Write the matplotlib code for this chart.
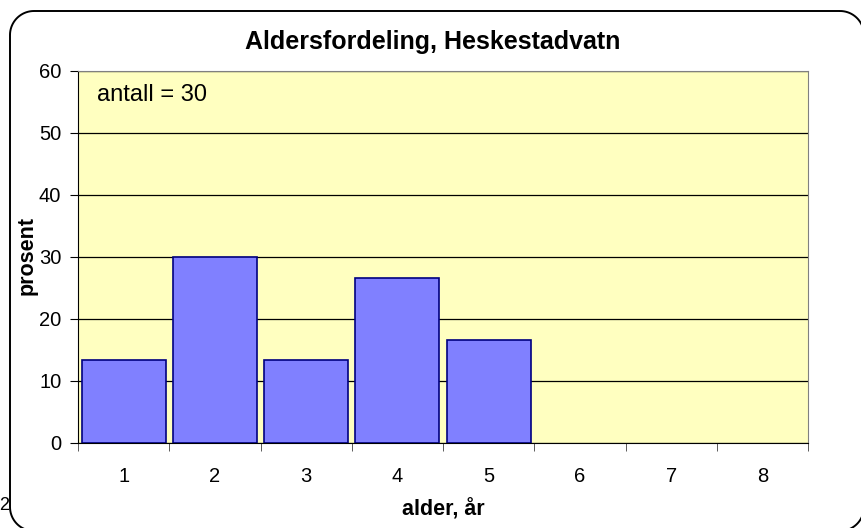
import numpy as np
import matplotlib.pyplot as plt
from matplotlib.path import Path
from matplotlib.patches import PathPatch

plt.rcParams['font.family'] = ['Liberation Sans', 'DejaVu Sans']

# aldersfordeling, andel i prosent (n = 30)
ages = [1, 2, 3, 4, 5, 6, 7, 8]
percent = [13.33, 30.0, 13.33, 26.67, 16.67, 0, 0, 0]
yticks = [0, 10, 20, 30, 40, 50, 60]

W, H = 861, 528
fig = plt.figure(figsize=(W / 100, H / 100), dpi=100)
fig.patch.set_facecolor('white')


def rounded_rect(x0, y0, x1, y1, r, n=20):
    # pixel coords, y downwards
    pts = []
    corners = [(x1 - r, y0 + r, -90, 0), (x1 - r, y1 - r, 0, 90),
               (x0 + r, y1 - r, 90, 180), (x0 + r, y0 + r, 180, 270)]
    for cx, cy, a0, a1 in corners:
        t = np.radians(np.linspace(a0, a1, n))
        pts += list(zip(cx + r * np.cos(t), cy + r * np.sin(t)))
    pts.append(pts[0])
    return Path(pts)


bg = fig.add_axes([0, 0, 1, 1], zorder=0)
bg.set_xlim(0, W)
bg.set_ylim(H, 0)
bg.axis('off')
bg.add_patch(PathPatch(rounded_rect(10, 11, 864, 531, 24), fc='none', ec='black',
                       lw=1.4, clip_on=False))
bg.text(-1, 505, '2', fontsize=13, ha='left', va='center')

ax = fig.add_axes([78 / W, 1 - 443 / H, (808 - 78) / W, (443 - 71) / H], zorder=1)
ax.set_facecolor('#FFFFC0')
bars = ax.bar(ages, percent, width=0.92, color='#8080FF', edgecolor='#000080', lw=1.2, zorder=3)
for b, v in zip(bars, percent):
    if v == 0:
        b.set_visible(False)

ax.set_xlim(0.5, 8.5)
ax.set_ylim(0, 60)
ax.set_yticks(yticks)
ax.yaxis.grid(True, color='black', lw=0.9, zorder=1)
ax.set_axisbelow(True)

ax.set_xticks(ages)
ax.set_xticks([a + 0.5 for a in [0] + ages], minor=True)
ax.tick_params(axis='x', which='major', length=0, pad=17, labelsize=14.5)
ax.tick_params(axis='x', which='minor', length=6, direction='out', color='#404040')
ax.tick_params(axis='y', length=6, direction='out', pad=6, labelsize=14.5)

for s in ['top', 'right']:
    ax.spines[s].set_color('#808080')
ax.spines['left'].set_color('black')
ax.spines['bottom'].set_color('black')
for s in ax.spines.values():
    s.set_zorder(4)

bg.text(433, 42, 'Aldersfordeling, Heskestadvatn', fontsize=18, fontweight='bold',
        ha='center', va='center')
ax.set_xlabel('alder, år', fontsize=15.5, fontweight='bold', labelpad=10)
ax.set_ylabel('prosent', fontsize=15.5, fontweight='bold')
ax.yaxis.set_label_coords((38 - 78) / (808 - 78), (443 - 256) / (443 - 71))
ax.text(0.026, 0.935, 'antall = 30', transform=ax.transAxes, fontsize=17, va='center')

fig.savefig('out.png', dpi=100)
